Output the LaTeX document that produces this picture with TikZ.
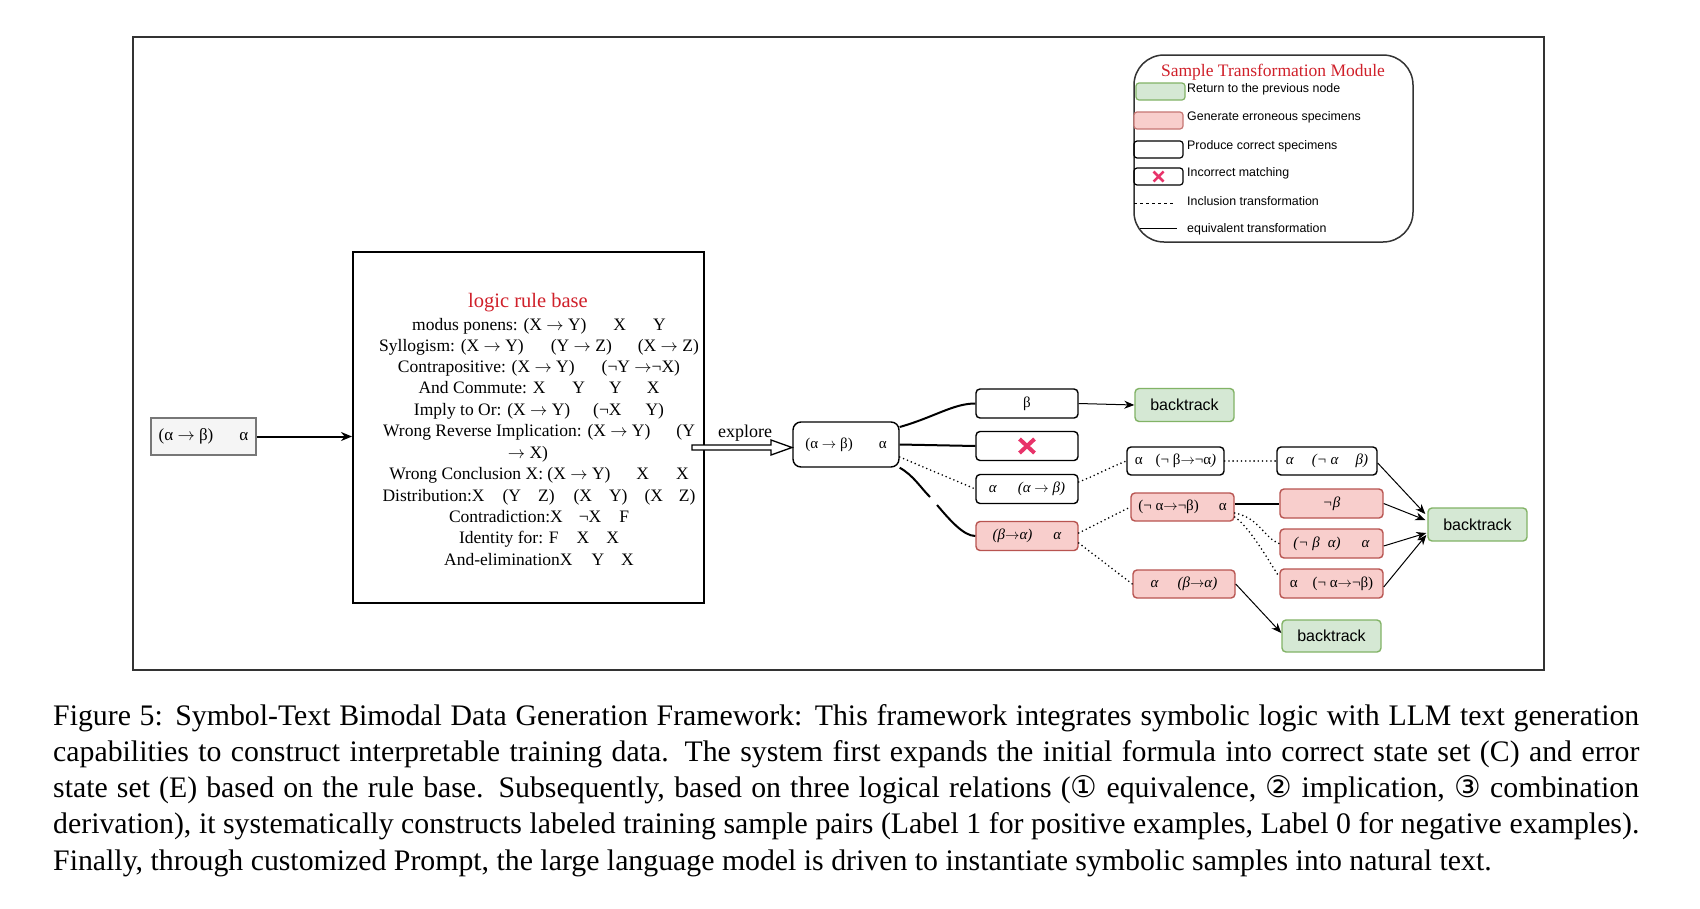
\documentclass[tikz,border=0pt]{standalone}
\usepackage{fontspec}
\setmainfont{Liberation Serif}
\newfontfamily\sansf{Liberation Sans}
\newfontfamily\dejavu{DejaVu Sans}
\usetikzlibrary{calc,arrows.meta}
\newcommand{\myra}{\ensuremath{\rightarrow}}
\definecolor{errfill}{HTML}{F8CECC}
\definecolor{errline}{HTML}{B85450}
\definecolor{okfill}{HTML}{D5E8D4}
\definecolor{okline}{HTML}{82B366}
\definecolor{titlered}{HTML}{D0202A}
\definecolor{xred}{HTML}{E8336A}
\definecolor{framec}{HTML}{333333}
\definecolor{startfill}{HTML}{F5F5F5}
\definecolor{startline}{HTML}{777777}
\tikzset{
 rbox/.style={draw=black, line width=1.4pt, rounded corners=4pt, fill=white, inner sep=0pt,
   minimum width=102pt, minimum height=29pt, font=\fontsize{15}{18}\selectfont},
 errbox/.style={rbox, draw=errline, fill=errfill},
 okbox/.style={rbox, draw=okline, fill=okfill, font=\sansf\fontsize{16}{19}\selectfont,
   minimum width=99pt, minimum height=33pt},
 eqline/.style={line width=2pt},
 incl/.style={line width=1.8pt, line cap=round, dash pattern=on 0pt off 4.2pt},
 back/.style={line width=1pt, -{Stealth[length=10pt,width=8pt]}},
 rule/.style={anchor=base, inner sep=0pt, font=\fontsize{17.5}{21.5}\selectfont},
 legtext/.style={anchor=west, inner sep=0pt, font=\sansf\fontsize{12.4}{15}\selectfont},
 swatch/.style={draw, rounded corners=3pt, line width=1.2pt, minimum width=49pt,
   minimum height=17pt, inner sep=0pt},
 xmark/.style={draw=xred, line width=4pt},
}
\begin{document}
\begin{tikzpicture}[x=1pt,y=1pt]
\useasboundingbox (0,0) rectangle (1700,-908);
\fill[white] (0,0) rectangle (1700,-908);
% frame
\node[draw=framec, line width=1.6pt, minimum width=1411pt, minimum height=633pt, inner sep=0pt] (frame) at (838.5,-353.5) {};

% legend
\node[draw=framec, line width=1.5pt, rounded corners=30pt, minimum width=279pt, minimum height=187pt, inner sep=0pt] (legend) at (1273.5,-148.5) {};
\node[inner sep=0pt, text=titlered, font=\fontsize{17.5}{20}\selectfont] (lgt) at (1273,-72) {Sample Transformation Module};
\node[swatch, draw=okline, fill=okfill] (sw1) at (1160.5,-91.5) {};
\node[swatch, draw=errline!80, fill=errfill] (sw2) at (1158.5,-120.5) {};
\node[swatch, draw=black] (sw3) at (1158.5,-149.5) {};
\node[swatch, draw=black] (sw4) at (1158.5,-176.5) {};
\draw[draw=xred, line width=2.5pt] ($(sw4.center)+(-5,5)$) -- ($(sw4.center)+(5,-5)$)
  ($(sw4.center)+(-5,-5)$) -- ($(sw4.center)+(5,5)$);
\coordinate (d1) at (1134,-203);
\coordinate (d2) at (1174,-203);
\draw[line width=1pt, dash pattern=on 3pt off 3pt] (d1) -- (d2);
\coordinate (s1) at (1140,-228);
\coordinate (s2) at (1177,-228);
\draw[line width=1pt] (s1) -- (s2);
\node[legtext] (l1) at (1187,-89) {Return to the previous node};
\node[legtext] (l2) at (1187,-117) {Generate erroneous specimens};
\node[legtext] (l3) at (1187,-146) {Produce correct specimens};
\node[legtext] (l4) at (1187,-173) {Incorrect matching};
\node[legtext] (l5) at (1187,-201) {Inclusion transformation};
\node[legtext] (l6) at (1187,-229) {equivalent transformation};

% start node
\node[draw=startline, fill=startfill, line width=1.5pt, minimum width=105pt, minimum height=37pt,
  inner sep=0pt, font=\fontsize{17}{20}\selectfont] (start) at (203.5,-436.5) {(α \myra{} β)\hspace{26pt}α};

% logic rule base
\node[draw, line width=2pt, minimum width=351pt, minimum height=351pt, inner sep=0pt] (logic) at (528.5,-427.5) {};
\node[rule, text=titlered, font=\fontsize{20.5}{24}\selectfont] (lt) at (528,-307) {logic rule base};
\node[rule] (r1) at (539,-330) {modus ponens: (X \myra{} Y)\hspace{27pt}X\hspace{27pt}Y};
\node[rule] (r2) at (539,-351) {Syllogism: (X \myra{} Y)\hspace{27pt}(Y \myra{} Z)\hspace{26pt}(X \myra{} Z)};
\node[rule] (r3) at (539,-372) {Contrapositive: (X \myra{} Y)\hspace{27pt}(¬Y \myra¬X)};
\node[rule] (r4) at (539,-393) {And Commute: X\hspace{27pt}Y\hspace{24pt}Y\hspace{25pt}X};
\node[rule] (r5) at (539,-415) {Imply to Or: (X \myra{} Y)\hspace{23pt}(¬X\hspace{24pt}Y)};
\node[rule] (r6) at (539,-436) {Wrong Reverse Implication: (X \myra{} Y)\hspace{26pt}(Y};
\node[rule] (r7) at (528,-458) {\myra{} X)};
\node[rule] (r8) at (539,-479) {Wrong Conclusion X: (X \myra{} Y)\hspace{26pt}X\hspace{27pt}X};
\node[rule] (r9) at (539,-501) {Distribution:X\hspace{18pt}(Y\hspace{17pt}Z)\hspace{19pt}(X\hspace{17pt}Y)\hspace{17pt}(X\hspace{16pt}Z)};
\node[rule] (r10) at (539,-522) {Contradiction:X\hspace{16pt}¬X\hspace{18pt}F};
\node[rule] (r11) at (539,-543) {Identity for: F\hspace{18pt}X\hspace{17pt}X};
\node[rule] (r12) at (539,-565) {And-eliminationX\hspace{19pt}Y\hspace{17pt}X};

\draw[line width=2pt, -{Stealth[length=11pt,width=9pt]}] (start.east) -- (logic.west |- start.east);

% middle
\node[rbox, rounded corners=8pt, minimum width=106pt, minimum height=45pt] (mid) at (846,-444.5) {(α \myra{} β)\hspace{26pt}α};
\coordinate (ex0) at (692,-447.5);
\draw[line width=1.3pt, fill=white, line join=miter] (ex0) ++(0,2.5) -- ++(79,0) -- ++(0,5) -- ++(21,-7.5)
  -- ++(-21,-7.5) -- ++(0,5) -- ++(-79,0) -- cycle;
\node[inner sep=0pt, font=\fontsize{18}{20}\selectfont] (exl) at (745,-433) {explore};

\node[rbox] (beta) at (1027,-403.5) {β};
\node[rbox] (cross) at (1027,-446) {};
\draw[xmark] ($(cross.center)+(-7.5,7)$) -- ($(cross.center)+(7.5,-7)$)
  ($(cross.center)+(-7.5,-7)$) -- ($(cross.center)+(7.5,7)$);
\node[rbox] (a1) at (1027,-489) {\itshape α\hspace{21pt}(α \myra{} β)};
\node[errbox] (e1) at (1027,-536) {\itshape (β\myra α)\hspace{21pt}α};

\draw[eqline] ($(mid.east)+(0,17.5)$) .. controls +(35,10) and +(-22,0) .. (beta.west);
\draw[eqline] (mid.east) -- (cross.west);
\draw[incl] ($(mid.east)+(0,-12.5)$) -- (a1.west);
\coordinate (g1) at (930,-497);
\coordinate (g2) at (937,-505);
\draw[eqline] (mid.south east) .. controls +(14,-8) and +(-10,10) .. (g1);
\draw[eqline] (g2) .. controls +(12,-14) and +(-12,0) .. (e1.west);

% right part
\node[okbox] (bt1) at (1184.5,-405) {backtrack};
\node[rbox, minimum width=97pt, minimum height=28pt] (w2) at (1175.5,-461) {α\hspace{13pt}(¬ β\myra¬α\itshape)};
\node[rbox, minimum width=100pt, minimum height=28pt] (w3) at (1327,-461) {\itshape α\hspace{18pt}(¬ α\hspace{17pt}β)};
\node[errbox, minimum width=103pt, minimum height=28pt] (e2) at (1182.5,-507) {(¬ α\myra¬β)\hspace{20pt}α};
\node[errbox, minimum width=103pt] (e3) at (1331.5,-503.5) {\itshape ¬β};
\node[errbox, minimum width=103pt] (e4) at (1331.5,-543.5) {\itshape (¬ β\hspace{8pt}α)\hspace{21pt}α};
\node[errbox, minimum width=103pt] (e5) at (1331.5,-583.5) {α\hspace{15pt}(¬ α\myra¬β)};
\node[errbox, minimum width=102pt, minimum height=28pt] (e6) at (1184,-584) {\itshape α\hspace{19pt}(β\myra α)};
\node[okbox] (bt2) at (1477.5,-524.5) {backtrack};
\node[okbox, minimum height=32pt] (bt3) at (1331.5,-636) {backtrack};

\draw[back] (beta.east) -- (bt1.west);
\draw[incl] ($(a1.east)+(0,7)$) .. controls +(20,8) and +(-20,-8) .. (w2.west);
\draw[incl] (w2.east) -- (w3.west);
\draw[incl] ($(e1.east)+(0,3)$) -- (e2.west);
\draw[incl] ($(e1.east)+(0,-7)$) -- (e6.west);
\draw[eqline] (e3.west -| e2.east) -- (e3.west);
\draw[incl] ($(e2.east)+(0,-6)$) .. controls +(25,-5) and +(-15,5) .. (e4.west);
\draw[incl] ($(e2.east)+(0,-10)$) .. controls +(15,-10) and +(-10,15) .. ($(e5.west)+(0,6.5)$);

\draw[back] ($(w3.east)+(0,-2)$) -- ($(bt2.west)+(-2,10.5)$);
\draw[back] (e3.east) -- ($(bt2.west)+(-2,4.5)$);
\draw[back] ($(e4.east)+(0,-2.5)$) -- ($(bt2.west)+(-1,-8.5)$);
\draw[back] ($(e5.east)+(0,-3.5)$) -- ($(bt2.west)+(-1,-10.5)$);
\draw[back] (e6.east) -- ($(bt3.west)+(0,3)$);

% caption
\node[anchor=base west, inner sep=0pt, text width=1586pt, align=justify,
  font=\fontsize{29.8}{36.3}\selectfont] (cap) at (53,-725) {\tolerance=9999 Figure 5: Symbol-Text Bimodal Data Generation Framework: This framework integrates symbolic logic with LLM text generation\linebreak
capabilities to construct interpretable training data. The system first expands the initial formula into correct state set (C) and error\linebreak
state set (E) based on the rule base. Subsequently, based on three logical relations ({\dejavu ①} equivalence, {\dejavu ②} implication, {\dejavu ③} combination\linebreak
derivation), it systematically constructs labeled training sample pairs (Label 1 for positive examples, Label 0 for negative examples).\linebreak
Finally, through customized Prompt, the large language model is driven to instantiate symbolic samples into natural text.};
\end{tikzpicture}
\end{document}
